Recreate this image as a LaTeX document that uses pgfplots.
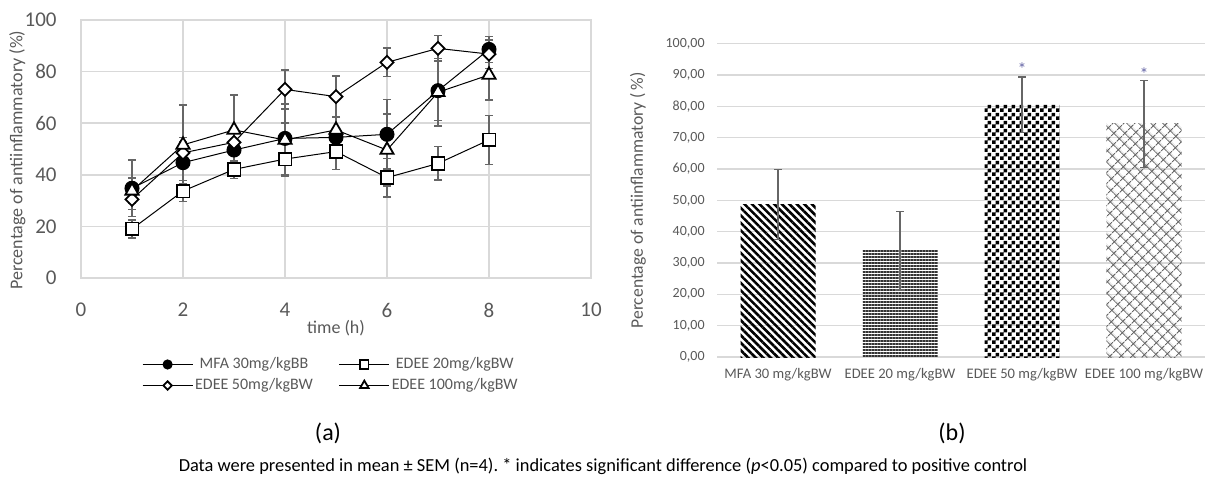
\documentclass[border=0pt]{standalone}
\usepackage{fontspec}
\setmainfont{Carlito}
\usepackage{pgfplots}
\pgfplotsset{compat=1.18}
\usetikzlibrary{patterns,patterns.meta}
\definecolor{txt}{HTML}{595959}
\definecolor{grd}{HTML}{D9D9D9}
\definecolor{errc}{HTML}{666666}
\definecolor{star}{HTML}{6A6AA8}
\newcommand{\fs}[1]{\fontsize{#1}{#1}\selectfont}
\frenchspacing

% small checkerboard, 2pt cells
\pgfdeclarepatternformonly{smallchecker}{\pgfpointorigin}{\pgfqpoint{4pt}{4pt}}{\pgfqpoint{4pt}{4pt}}{%
  \pgfpathrectangle{\pgfpointorigin}{\pgfqpoint{2pt}{2pt}}%
  \pgfpathrectangle{\pgfqpoint{2pt}{2pt}}{\pgfqpoint{2pt}{2pt}}%
  \pgfusepath{fill}}

% time course: t, value, SEM
\pgfplotstableread{
t y e
1 34.8 11
2 44.7 8
3 49.6 4.5
4 54.1 6
5 54.5 8
6 55.7 13.5
7 72.6 11.5
8 88.6 5
}\mfa
\pgfplotstableread{
t y e
1 19.0 3.5
2 33.7 4
3 42.1 3.5
4 46.1 6
5 49.0 7
6 38.9 7.5
7 44.4 6.5
8 53.5 9.5
}\edeeA
\pgfplotstableread{
t y e
1 30.5 4
2 48.5 6
3 52.6 5
4 73.1 7.5
5 70.3 8
6 83.6 5.5
7 89.0 5
8 86.8 5.5
}\edeeB
\pgfplotstableread{
t y e
1 33.8 5
2 51.6 15.5
3 57.4 13.5
4 53.5 14
5 57.4 5
6 49.6 14
7 72.0 13
8 78.7 9.7
}\edeeC

\begin{document}
\begin{tikzpicture}
\path[use as bounding box] (0,0) rectangle (602.5pt,239.5pt);

% ---- (a) line chart
\begin{axis}[
    at={(40.5pt,100.5pt)}, anchor=south west,
    scale only axis, width=255pt, height=129pt,
    xmin=0, xmax=10, ymin=0, ymax=100,
    xtick={0,2,...,10}, ytick={0,20,...,100},
    grid=major, grid style={grd, line width=0.75pt},
    axis line style={grd, line width=0.75pt},
    major tick length=0pt,
    /pgf/number format/assume math mode=true,
    ticklabel style={font=\fs{10.5}, text=txt, inner sep=0pt},
    xticklabel style={anchor=center, yshift=-16pt},
    yticklabel style={anchor=east, xshift=-12pt},
    xlabel={time (h)},
    xlabel style={at={(axis description cs:0.5,-0.194)}, anchor=center, font=\fs{9}, text=txt},
    ylabel={Percentage of antiinflammatory (\%)},
    ylabel style={at={(axis description cs:-0.125,0.457)}, anchor=center, font=\fs{9}, text=txt},
    every axis plot/.append style={black, line width=0.5pt,
        error bars/y dir=both, error bars/y explicit,
        error bars/error bar style={errc, line width=0.75pt},
        error bars/error mark options={rotate=90, errc, mark size=2pt, line width=0.75pt}},
    legend columns=2,
    legend style={at={(axis description cs:0.49,-0.283)}, anchor=north, draw=none,
        font=\fs{8}, text=txt, row sep=1.5pt,
        nodes={inner sep=1pt},
        /tikz/every even column/.append style={column sep=12pt}},
    legend image code/.code={\draw[mark repeat=2,mark phase=2,#1,
        every mark/.append style={scale=0.65}]
        plot coordinates {(0pt,0pt) (12.5pt,0pt) (25pt,0pt)};},
]
\addplot[mark=*, mark size=3.5pt, mark options={fill=black, draw=black, line width=0.5pt}]
    table[x=t, y=y, y error=e] {\mfa};
\addplot[mark=square*, mark size=3.2pt, mark options={fill=white, draw=black, line width=0.9pt}]
    table[x=t, y=y, y error=e] {\edeeA};
\addplot[mark=square*, mark size=2.3pt, mark options={rotate=45, fill=white, draw=black, line width=0.9pt}]
    table[x=t, y=y, y error=e] {\edeeB};
\addplot[mark=triangle*, mark size=3.8pt, mark options={fill=white, draw=black, line width=0.9pt}]
    table[x=t, y=y, y error=e] {\edeeC};
\legend{MFA 30mg/kgBB, EDEE 20mg/kgBW, EDEE 50mg/kgBW, EDEE 100mg/kgBW}
\end{axis}

% ---- (b) bar chart
\begin{axis}[
    at={(358.5pt,61pt)}, anchor=south west,
    scale only axis, width=244pt, height=156.65pt,
    xmin=-0.5, xmax=3.5, ymin=0, ymax=100,
    xtick={0,1,2,3},
    xticklabels={MFA 30 mg/kgBW, EDEE 20 mg/kgBW, EDEE 50 mg/kgBW, EDEE 100 mg/kgBW},
    ytick={0,10,...,100},
    ymajorgrids, grid style={grd, line width=0.75pt},
    axis line style={draw=none},
    major tick length=0pt,
    /pgf/number format/.cd, fixed, fixed zerofill, precision=2, use comma, 1000 sep={},
    assume math mode=true, /pgfplots/.cd,
    ticklabel style={text=txt, inner sep=0pt},
    xticklabel style={font=\fs{7.3}, anchor=center, yshift=-9pt},
    yticklabel style={font=\fs{7}, anchor=east, xshift=-6pt},
    ylabel={Percentage of antiinflammatory (\,\%)},
    ylabel style={at={(axis description cs:-0.162,0.5)}, anchor=center, font=\fs{8.8}, text=txt},
    every axis plot/.append style={ybar, bar width=37.5pt, bar shift=0pt, draw=none,
        error bars/y dir=both, error bars/y explicit,
        error bars/error bar style={errc, line width=0.6pt},
        error bars/error mark options={rotate=90, errc, mark size=2pt, line width=0.6pt}},
]
\addplot[pattern={Lines[angle=-45, distance=2.65pt, line width=1.3pt]}, pattern color=black]
    coordinates {(0,48.6) +- (0,11.2)};
\addplot[pattern={Lines[angle=0, distance=1.5pt, line width=0.8pt]}, pattern color=black!80]
    coordinates {(1,33.9) +- (0,12.5)};
\addplot[pattern=smallchecker, pattern color=black]
    coordinates {(2,80.5) +- (0,8.9)};
\addplot[pattern={Hatch[angle=45, distance=4pt, line width=0.6pt]}, pattern color=black!60]
    coordinates {(3,74.4) +- (0,13.8)};
\node[text=star, font=\fs{9}, yshift=-1.5pt] at (axis cs:2,93) {*};
\node[text=star, font=\fs{9}, yshift=-1.5pt] at (axis cs:3,91.2) {*};
\end{axis}

\node[font=\fs{12}] at (164pt,23pt) {(a)};
\node[font=\fs{12}] at (476pt,23pt) {(b)};
\node[font=\fs{9.2}] at (301.5pt,6.5pt)
  {Data were presented in mean ± SEM (n=4). * indicates significant difference (\textit{p}<0.05) compared to positive control};
\end{tikzpicture}
\end{document}
